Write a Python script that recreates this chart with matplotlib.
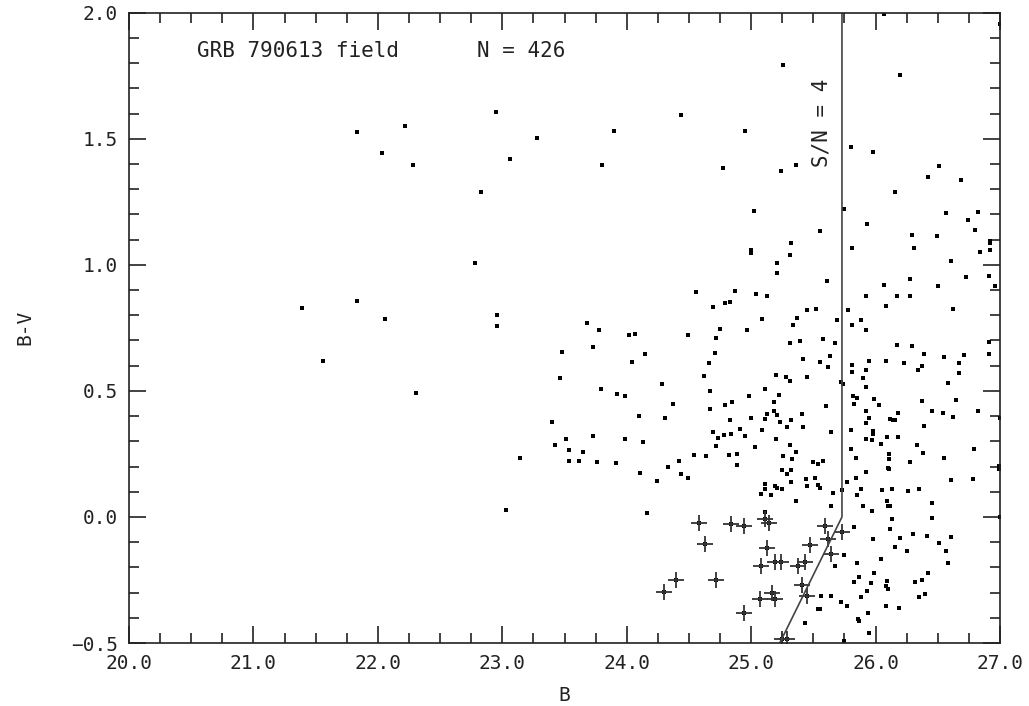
import matplotlib
matplotlib.use("Agg")
import matplotlib.pyplot as plt
from matplotlib.ticker import MultipleLocator, FuncFormatter

# all field stars: B magnitude and B-V colour
b_dots = [
    21.39, 21.56, 21.83, 21.83, 22.03, 22.06, 22.22, 22.28, 22.31, 22.78,
    22.83, 22.95, 22.96, 22.96, 23.03, 23.06, 23.14, 23.28, 23.80, 23.90,
    23.68, 23.78, 24.02, 24.07, 23.73, 23.48, 24.15, 24.04, 23.46, 23.79,
    23.92, 23.99, 24.10, 23.40, 23.73, 23.51, 23.99,
    24.49, 24.69, 24.79, 24.83, 24.75, 24.72, 24.97, 24.71, 24.66, 24.62,
    24.28, 24.67, 24.98, 24.37, 24.79, 24.85, 24.67, 24.31, 24.83, 25.00,
    24.13, 23.42, 23.54, 23.65, 23.54, 23.62, 23.76, 23.91, 24.69, 24.73,
    24.78, 24.84, 24.91, 24.95, 24.72, 24.54, 24.64, 24.82, 24.89, 24.89,
    24.42, 24.33, 24.11, 24.44, 24.49, 24.24, 24.16,
    25.26, 24.44, 24.95, 24.77, 25.24, 25.36, 25.02, 25.55, 26.07, 26.20,
    25.80, 25.98, 26.51, 26.42, 26.69, 26.16, 27.00, 25.75, 26.57, 26.82,
    26.74, 25.93, 26.29, 26.49, 26.80,
    26.92, 26.92, 26.92, 26.84, 25.81, 26.31, 26.61, 25.00, 25.00, 25.32,
    25.31, 25.21, 25.21, 25.61, 26.73, 26.91, 26.96, 26.50, 26.07, 26.28,
    25.92, 26.17, 26.28, 26.08, 26.62, 25.78, 25.81, 25.88, 25.92, 25.69,
    24.56, 24.87, 25.04, 25.13, 25.45, 25.52, 25.37, 25.34, 25.09, 25.11,
    25.31, 25.39, 25.58, 25.67, 25.42, 25.63, 25.55, 25.62, 25.20, 25.28,
    25.31, 25.45, 25.72, 25.74, 25.22, 25.18, 25.60, 25.13, 25.18, 25.21,
    25.11, 25.23, 25.32, 25.41, 25.29, 25.42, 25.09, 25.64, 25.20,
    25.81, 25.81, 25.92, 25.90, 25.92, 25.95, 26.08, 26.17, 26.29, 26.39,
    26.23, 26.34, 26.37, 26.55, 26.67, 26.71, 26.91, 26.91, 26.67, 26.58,
    25.82, 25.85, 25.83, 25.99, 26.03, 25.92, 25.95, 26.18, 26.12, 26.14,
    26.16, 26.37, 26.45, 26.54, 26.62, 26.65, 26.82, 27.00, 25.92, 25.80,
    25.98, 25.98, 26.39, 26.09, 26.18, 25.92, 25.97,
    25.03, 25.31, 25.36, 25.26, 25.33, 25.25, 25.29, 25.32, 25.32, 25.50,
    25.54, 25.58, 25.44, 25.51, 25.45, 25.54, 25.55, 25.11, 25.11, 25.19,
    25.21, 25.25, 25.08, 25.16, 25.36, 25.66, 25.64, 25.11, 25.73,
    26.04, 26.33, 26.38, 26.79, 26.55, 25.80, 25.84, 26.11, 26.11, 26.10,
    26.11, 26.28, 25.92, 25.77, 25.84, 25.88, 25.85, 26.05, 26.13, 26.26,
    26.35, 26.61, 26.78, 26.99, 26.99, 26.09, 26.10, 26.12, 25.90, 25.97,
    26.13, 26.45, 26.45, 27.00, 25.83, 26.12, 25.98, 26.20, 26.30, 26.41,
    26.51, 26.61, 26.16, 26.25, 26.57, 26.58, 26.04, 25.75, 25.67, 25.85,
    25.99, 25.87, 25.83, 25.96, 26.09, 26.08, 26.10, 26.32, 26.37, 26.42,
    26.40, 26.35, 25.93, 25.88, 26.08, 26.19, 25.94, 25.86, 25.87, 25.95,
    25.75, 25.77, 25.72, 25.64, 25.56, 25.54, 25.55, 25.43,
]
bv_dots = [
    0.830, 0.620, 0.855, 1.525, 1.442, 0.786, 1.549, 1.397, 0.492, 1.007,
    1.289, 1.605, 0.803, 0.758, 0.028, 1.418, 0.232, 1.505, 1.394, 1.532,
    0.770, 0.740, 0.720, 0.726, 0.676, 0.656, 0.645, 0.615, 0.552, 0.508,
    0.488, 0.479, 0.401, 0.375, 0.323, 0.308, 0.308,
    0.720, 0.831, 0.849, 0.852, 0.746, 0.708, 0.740, 0.652, 0.610, 0.561,
    0.529, 0.500, 0.478, 0.449, 0.444, 0.456, 0.427, 0.394, 0.385, 0.392,
    0.297, 0.286, 0.267, 0.256, 0.220, 0.220, 0.217, 0.214, 0.335, 0.315,
    0.325, 0.331, 0.347, 0.321, 0.283, 0.244, 0.241, 0.244, 0.248, 0.208,
    0.221, 0.200, 0.176, 0.171, 0.155, 0.143, 0.014,
    1.792, 1.594, 1.531, 1.384, 1.372, 1.396, 1.214, 1.135, 1.996, 1.753,
    1.467, 1.448, 1.393, 1.349, 1.336, 1.287, 1.955, 1.221, 1.205, 1.209,
    1.176, 1.160, 1.119, 1.113, 1.140,
    1.094, 1.085, 1.057, 1.050, 1.065, 1.066, 1.016, 1.057, 1.048, 1.085,
    1.040, 1.008, 0.967, 0.936, 0.952, 0.955, 0.918, 0.918, 0.922, 0.943,
    0.877, 0.876, 0.877, 0.835, 0.823, 0.821, 0.763, 0.781, 0.742, 0.781,
    0.894, 0.897, 0.883, 0.877, 0.820, 0.823, 0.788, 0.763, 0.785, 0.506,
    0.690, 0.698, 0.706, 0.688, 0.627, 0.637, 0.613, 0.593, 0.565, 0.554,
    0.539, 0.556, 0.536, 0.529, 0.484, 0.455, 0.439, 0.408, 0.421, 0.403,
    0.387, 0.376, 0.384, 0.410, 0.357, 0.355, 0.343, 0.336, 0.308,
    0.602, 0.575, 0.583, 0.550, 0.516, 0.618, 0.618, 0.684, 0.677, 0.647,
    0.609, 0.583, 0.599, 0.635, 0.609, 0.644, 0.692, 0.646, 0.571, 0.532,
    0.480, 0.471, 0.450, 0.469, 0.446, 0.421, 0.394, 0.414, 0.390, 0.385,
    0.386, 0.461, 0.422, 0.413, 0.397, 0.464, 0.422, 0.393, 0.373, 0.343,
    0.340, 0.329, 0.359, 0.316, 0.317, 0.308, 0.307,
    0.279, 0.286, 0.256, 0.241, 0.230, 0.187, 0.170, 0.188, 0.139, 0.218,
    0.209, 0.220, 0.150, 0.154, 0.122, 0.126, 0.114, 0.130, 0.110, 0.122,
    0.113, 0.111, 0.090, 0.089, 0.064, 0.094, 0.042, 0.020, 0.105,
    0.290, 0.286, 0.254, 0.270, 0.232, 0.269, 0.233, 0.248, 0.228, 0.193,
    0.192, 0.217, 0.177, 0.138, 0.156, 0.111, 0.089, 0.105, 0.109, 0.101,
    0.109, 0.146, 0.151, 0.204, 0.190, 0.065, 0.045, 0.045, 0.044, 0.023,
    -0.009, 0.057, -0.004, 0.000, -0.040, -0.048, -0.087, -0.083, -0.066, -0.074,
    -0.102, -0.079, -0.118, -0.136, -0.136, -0.183, -0.165, -0.152, -0.194, -0.181,
    -0.221, -0.239, -0.257, -0.263, -0.254, -0.275, -0.284, -0.256, -0.252, -0.222,
    -0.304, -0.317, -0.292, -0.319, -0.352, -0.361, -0.381, -0.403, -0.413, -0.459,
    -0.493, -0.352, -0.337, -0.313, -0.313, -0.367, -0.367, -0.422,
]

# blue candidates marked with crosses
b_cross = [
    24.58, 24.63, 24.40, 24.30, 24.72, 24.84, 24.94, 24.94, 25.11, 25.14,
    25.13, 25.08, 25.19, 25.24, 25.07, 25.17, 25.19, 25.38, 25.43, 25.41,
    25.45, 25.47, 25.59, 25.62, 25.64, 25.73, 25.25, 25.29,
]
bv_cross = [
    -0.024, -0.106, -0.249, -0.298, -0.250, -0.026, -0.037, -0.380, -0.009, -0.022,
    -0.125, -0.196, -0.180, -0.177, -0.327, -0.300, -0.324, -0.196, -0.177, -0.271,
    -0.313, -0.112, -0.034, -0.088, -0.148, -0.058, -0.485, -0.485,
]

# S/N = 4 completeness limit
b_limit = [25.73, 25.73, 25.23]
bv_limit = [2.0, 0.0, -0.5]

mono = "DejaVu Sans Mono"
ink = "#222222"


def fmt(v, pos):
    return f"{v:.1f}".replace("-", "\u2212")


fig = plt.figure(figsize=(10.29, 7.06), dpi=100)
ax = fig.add_axes([0.1254, 0.0892, 0.8464, 0.8928])

ax.plot(b_dots, bv_dots, ls="none", marker="s", ms=2.2, color="black", mew=0)
ax.plot(b_cross, bv_cross, ls="none", marker="s", ms=2.5, color="black", mew=0)
ax.plot(b_cross, bv_cross, ls="none", marker="+", ms=11, mew=1.3, color="#333333")
ax.plot(b_limit, bv_limit, color="#444444", lw=1.2)

ax.set_xlim(20.0, 27.0)
ax.set_ylim(-0.5, 2.0)
ax.xaxis.set_major_locator(MultipleLocator(1.0))
ax.xaxis.set_minor_locator(MultipleLocator(0.25))
ax.yaxis.set_major_locator(MultipleLocator(0.5))
ax.yaxis.set_minor_locator(MultipleLocator(0.1))
ax.xaxis.set_major_formatter(FuncFormatter(fmt))
ax.yaxis.set_major_formatter(FuncFormatter(fmt))

ax.tick_params(which="both", direction="in", top=True, right=True,
               color=ink, width=1.2)
ax.tick_params(which="major", length=12, labelsize=14, pad=8,
               labelcolor=ink)
ax.tick_params(which="minor", length=7)
for lab in ax.get_xticklabels() + ax.get_yticklabels():
    lab.set_family(mono)
for sp in ax.spines.values():
    sp.set_color(ink)
    sp.set_linewidth(1.2)

ax.set_xlabel("B", family=mono, fontsize=14, color=ink, labelpad=9)
ax.set_ylabel("B-V", family=mono, fontsize=14, color=ink, labelpad=26)

ax.text(20.55, 1.85, "GRB 790613 field", family=mono, fontsize=15,
        color=ink, va="center", ha="left")
ax.text(22.8, 1.85, "N = 426", family=mono, fontsize=15,
        color=ink, va="center", ha="left")
ax.text(25.565, 1.565, "S/N = 4", family=mono, fontsize=15, color=ink,
        rotation=90, va="center", ha="center")

fig.savefig("out.png", dpi=100, facecolor="white")
